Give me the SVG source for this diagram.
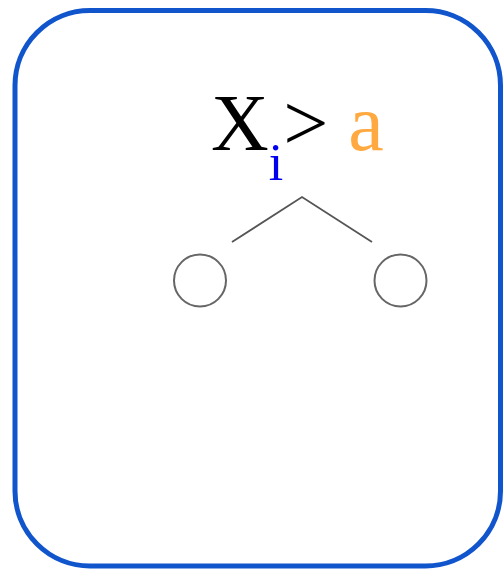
<svg xmlns="http://www.w3.org/2000/svg" width="503" height="570" viewBox="0 0 503 570">
<style>
.frame{fill:#ffffff;stroke:#1155cc;stroke-width:5}
.leaf{fill:#ffffff;stroke:#666666;stroke-width:2}
.edge{fill:none;stroke:#555555;stroke-width:1.8}
.lbl{font-family:"Liberation Serif","Times New Roman",serif;font-size:80px}
</style>
<rect width="503" height="570" fill="#ffffff"/>
<g id="frame"><rect class="frame" x="15" y="10.5" width="485.5" height="555.5" rx="75" ry="75"/></g>
<g id="split">
<text class="lbl" x="211" y="150"><tspan fill="#000000">X</tspan><tspan fill="#0000ee" font-size="52" dy="30">i</tspan><tspan fill="#000000" dy="-30">&gt;</tspan><tspan fill="#ffa940"> a</tspan></text>
</g>
<g id="connectors">
<polyline class="edge" points="232,242 302,197 372,242"/>
</g>
<g id="leaf-left"><circle class="leaf" cx="200" cy="280.5" r="26"/></g>
<g id="leaf-right"><circle class="leaf" cx="400.5" cy="280.5" r="26"/></g>
</svg>
